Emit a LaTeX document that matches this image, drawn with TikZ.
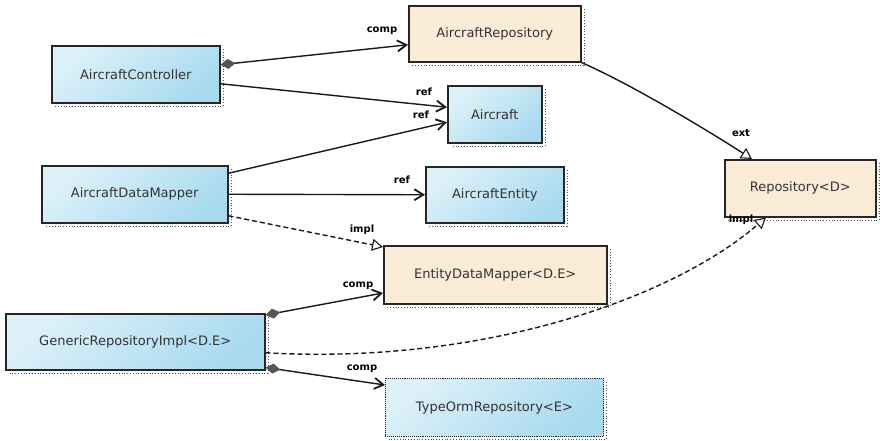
\documentclass[tikz,border=0pt]{standalone}
\usepackage{fontspec}
\setmainfont{DejaVu Sans}
\usetikzlibrary{arrows.meta,calc}
\definecolor{bluelight}{HTML}{DDF1F9}
\definecolor{bluedark}{HTML}{A8DAEF}
\definecolor{beige}{HTML}{FBECD7}
\definecolor{txt}{HTML}{333333}
\definecolor{dia}{HTML}{555555}
\tikzset{
  box/.style={anchor=north west, draw=black!85, line width=1.5pt, inner sep=0pt,
    font=\fontsize{13}{15}\selectfont, text=txt},
  bluebox/.style={box, top color=bluelight, bottom color=bluedark, shading angle=40},
  beigebox/.style={box, fill=beige},
  lab/.style={font=\fontsize{10}{11}\selectfont\bfseries, inner sep=0pt},
  conn/.style={line width=1.4pt, black!90},
  refarrow/.style={conn, -{Straight Barb[length=9pt,width=11pt,line width=1.8pt]}},
  comparrow/.style={conn, {Diamond[length=15pt,width=10pt,fill=dia,color=dia]}-{Straight Barb[length=9pt,width=11pt,line width=1.8pt]}},
  implarrow/.style={conn, dash pattern=on 5pt off 3pt, -{Triangle[length=11pt,width=12pt,fill=white,line width=1.1pt]}},
  extarrow/.style={conn, -{Triangle[length=11pt,width=12pt,fill=white,line width=1.1pt]}},
  shadowline/.style={black!70, line width=0.8pt, dotted}
}
\newcommand{\shadowof}[1]{%
  \draw[shadowline] ([xshift=2.5pt,yshift=-4pt]#1.north east) -- ([xshift=2.5pt,yshift=-2.5pt]#1.south east) -- ([xshift=4pt,yshift=-2.5pt]#1.south west);}
\begin{document}
\begin{tikzpicture}[x=1pt,y=-1pt]
\useasboundingbox (0,0) rectangle (880,440);
\fill[white] (0,0) rectangle (880,440);

% nodes
\node[bluebox, minimum width=168pt, minimum height=57pt] (ac) at (51,45) {AircraftController};
\node[beigebox, minimum width=172pt, minimum height=56pt] (ar) at (408,5) {AircraftRepository};
\node[bluebox, minimum width=94pt, minimum height=57pt] (acft) at (447,85) {Aircraft};
\node[bluebox, minimum width=186pt, minimum height=57pt] (adm) at (41,165) {AircraftDataMapper};
\node[bluebox, minimum width=138pt, minimum height=56pt] (ae) at (425,166) {AircraftEntity};
\node[beigebox, minimum width=151pt, minimum height=57pt] (rep) at (724,159) {Repository<D>};
\node[beigebox, minimum width=223pt, minimum height=58pt] (edm) at (383,245) {EntityDataMapper<D.E>};
\node[bluebox, minimum width=259pt, minimum height=56pt] (gri) at (5,313) {GenericRepositoryImpl<D.E>};
\node[bluebox, minimum width=218pt, minimum height=58pt, line width=0.9pt, densely dotted] (tor) at (385,378) {TypeOrmRepository<E>};

\shadowof{ac}\shadowof{ar}\shadowof{acft}\shadowof{adm}\shadowof{ae}
\shadowof{rep}\shadowof{edm}\shadowof{gri}\shadowof{tor}

% connectors
\draw[comparrow] ([yshift=9.5pt]ac.east) -- ([yshift=-11pt]ar.west);
\draw[refarrow] ([yshift=-9.5pt]ac.east) -- ([yshift=7pt]acft.west);
\draw[refarrow] ([yshift=21pt]adm.east) -- ([yshift=-8pt]acft.west);
\draw[refarrow] (adm.east) -- (ae.west);
\draw[implarrow] ([yshift=-21.5pt]adm.east) -- ([yshift=-2pt]edm.north west);
\draw[extarrow] (ar.south east) .. controls +(50,22) and +(-45,-29) .. ([xshift=28pt]rep.north west);
\draw[implarrow] ([yshift=-11pt]gri.east) .. controls (480,365) and (670,300) .. ([xshift=42pt]rep.south west);
\draw[comparrow] ([yshift=-2pt]gri.north east) -- ([yshift=-48pt]edm.north west);
\draw[comparrow] ([yshift=3pt]gri.south east) -- ([yshift=-7pt]tor.north west);

% labels
\node[lab] (l1) at (382,31) {comp};
\node[lab] (l2) at (424,92) {ref};
\node[lab] (l3) at (421,115) {ref};
\node[lab] (l4) at (402,180) {ref};
\node[lab] (l5) at (362,230) {impl};
\node[lab] (l6) at (741,133) {ext};
\node[lab] (l7) at (741,220) {impl};
\node[lab] (l8) at (358,286) {comp};
\node[lab] (l9) at (362,369) {comp};
\end{tikzpicture}
\end{document}
